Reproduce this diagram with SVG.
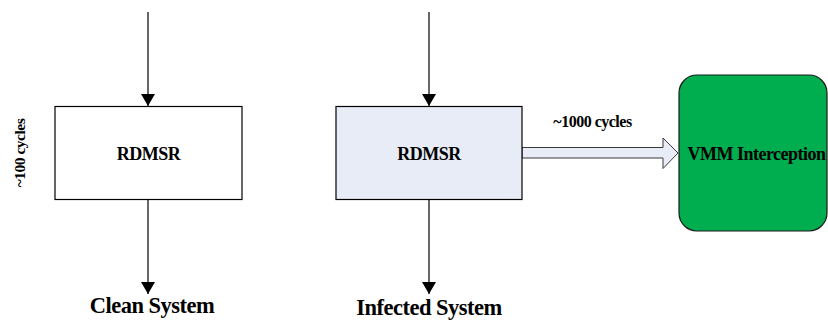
<svg xmlns="http://www.w3.org/2000/svg" width="828" height="320" viewBox="0 0 828 320">
  <style>
    .box { stroke: #000; stroke-width: 1.2; }
    .lbl { font-family: "Liberation Serif", "Times New Roman", "DejaVu Serif", serif; font-weight: bold; fill: #000; text-anchor: middle; letter-spacing: -0.5px; }
    .wire { stroke: #000; stroke-width: 1.2; fill: none; }
  </style>
  <defs>
    <marker id="tri" viewBox="0 0 12 16" refX="12" refY="8" markerWidth="12" markerHeight="16" markerUnits="userSpaceOnUse" orient="auto">
      <path d="M0,1 L12,8 L0,15 Z" fill="#000"/>
    </marker>
  </defs>

  <rect width="828" height="320" fill="#fff"/>

  <!-- connectors -->
  <g id="connectors">
    <line class="wire" x1="148" y1="12" x2="148" y2="106" marker-end="url(#tri)"/>
    <line class="wire" x1="148" y1="200" x2="148" y2="294" marker-end="url(#tri)"/>
    <line class="wire" x1="429" y1="12" x2="429" y2="106" marker-end="url(#tri)"/>
    <line class="wire" x1="429" y1="200" x2="429" y2="294" marker-end="url(#tri)"/>
    <!-- hollow block arrow into the VMM -->
    <path d="M522,147.5 L663,147.5 L663,138 L678,153 L663,168.5 L663,158 L522,158 Z" fill="#E7ECF7" stroke="#3a3a3a" stroke-width="1"/>
    <text class="lbl" x="592.5" y="127" font-size="16">~1000 cycles</text>
  </g>

  <g id="clean-rdmsr">
    <rect class="box" x="55" y="106.5" width="187" height="93" fill="#fff"/>
    <text class="lbl" x="148.5" y="160" font-size="18">RDMSR</text>
  </g>

  <g id="infected-rdmsr">
    <rect class="box" x="336" y="106.5" width="186" height="93" fill="#E7ECF7"/>
    <text class="lbl" x="429" y="160" font-size="18">RDMSR</text>
  </g>

  <g id="vmm">
    <rect x="679" y="75" width="148" height="156" rx="18" ry="18" fill="#00AD4F" stroke="#1a1a1a" stroke-width="1.2"/>
    <text class="lbl" x="756.5" y="160" font-size="18">VMM Interception</text>
  </g>

  <g id="cycles-clean">
    <text class="lbl" transform="translate(25,153) rotate(-90)" font-size="15.5">~100 cycles</text>
  </g>

  <g id="clean-system">
    <text class="lbl" x="152" y="313" font-size="22.5">Clean System</text>
  </g>

  <g id="infected-system">
    <text class="lbl" x="429" y="315" font-size="22.5">Infected System</text>
  </g>
</svg>
